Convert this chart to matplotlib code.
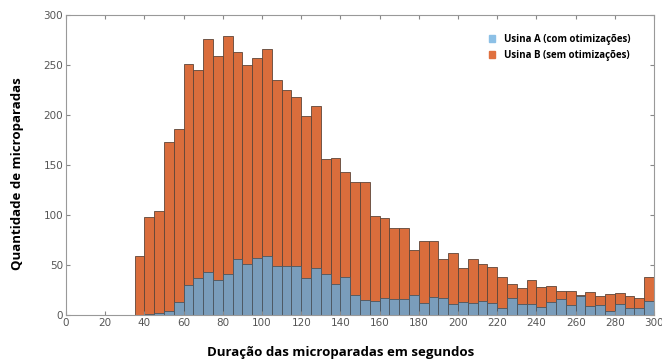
import matplotlib.pyplot as plt
import numpy as np
from matplotlib.patches import Patch

# bin edges (5 s bins from 35 to 300)
bin_left = np.arange(35, 300, 5)

usina_b = [59, 98, 104, 173, 186, 251, 245, 276, 259, 279, 263, 250, 257,
           266, 235, 225, 218, 199, 209, 156, 157, 143, 133, 133, 99, 97,
           87, 87, 65, 74, 74, 56, 62, 47, 56, 51, 48, 38, 31, 27, 35, 28,
           29, 24, 24, 20, 23, 19, 21, 22, 19, 17, 38]
usina_a = [0, 1, 2, 4, 13, 30, 37, 43, 35, 41, 56, 51, 57,
           59, 49, 49, 49, 37, 47, 41, 31, 38, 20, 15, 14, 17,
           16, 16, 20, 12, 18, 17, 11, 13, 12, 14, 12, 7, 17, 11, 11, 8,
           13, 16, 10, 19, 9, 10, 4, 11, 7, 7, 14]

fig = plt.figure(figsize=(6.62, 3.62), dpi=100)
ax = fig.add_axes([0.0997, 0.1298, 0.8883, 0.8288])

ax.bar(bin_left, usina_b, width=5, align='edge', color='#DA6D3C',
       edgecolor='#5e4538', linewidth=0.6)
ax.bar(bin_left, usina_a, width=5, align='edge', color='#7A9DBB',
       edgecolor='#4a545e', linewidth=0.6)

ax.set_xlim(0, 300)
ax.set_ylim(0, 300)
ax.set_xticks(np.arange(0, 301, 20))
ax.set_yticks(np.arange(0, 301, 50))
ax.tick_params(direction='in', top=True, right=True, length=3,
               color='#888888', labelcolor='#555555', labelsize=7.5, pad=2)
for s in ax.spines.values():
    s.set_color('#999999')
    s.set_linewidth(0.8)

fig.text(0.514, 0.027, 'Duração das microparadas em segundos',
         ha='center', va='center', fontsize=9.5, fontweight='bold',
         family='Open Sans')
fig.text(0.027, 0.52, 'Quantidade de microparadas', ha='center',
         va='center', rotation=90, fontsize=9.5, fontweight='bold',
         family='Open Sans')

handles = [Patch(color='#8CC0E6', label='Usina A (com otimizações)'),
           Patch(color='#E0703F', label='Usina B (sem otimizações)')]
leg = ax.legend(handles=handles, loc='upper right', frameon=False,
                bbox_to_anchor=(0.975, 0.965), handlelength=0.7,
                handleheight=0.7, handletextpad=0.9, labelspacing=0.45,
                prop={'family': 'Open Sans', 'weight': 'bold', 'size': 7})

fig.savefig('out.png', dpi=100)
